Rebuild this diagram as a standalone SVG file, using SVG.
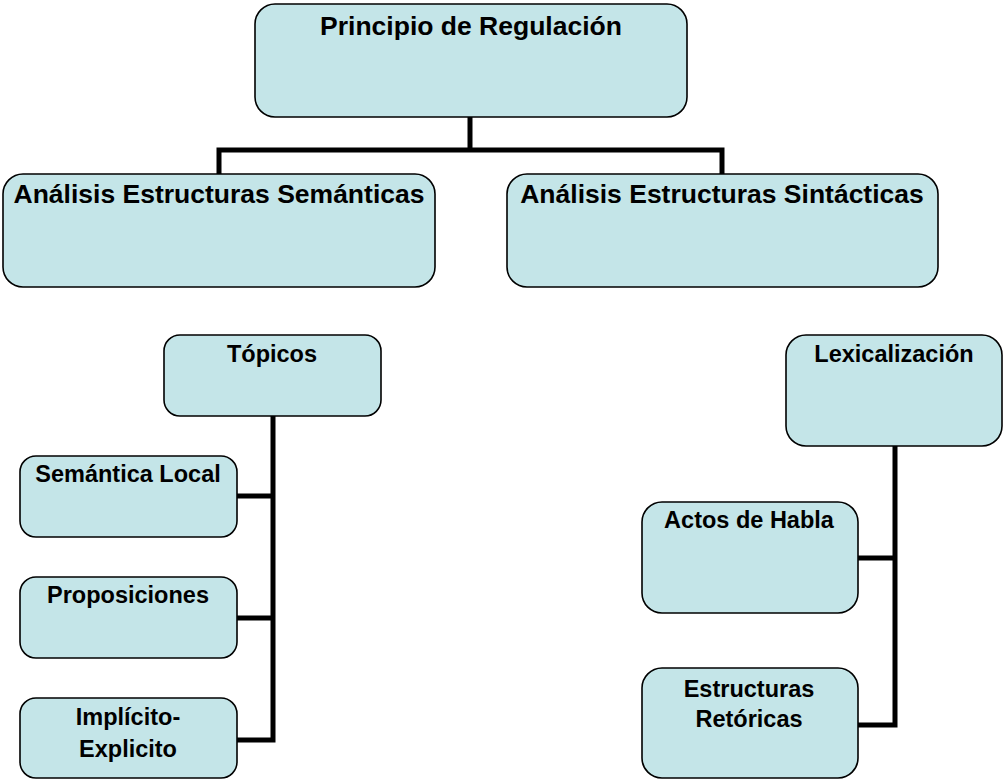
<svg xmlns="http://www.w3.org/2000/svg" width="1003" height="780" viewBox="0 0 1003 780">
<style>
.box{fill:#c4e5e8;stroke:#000;stroke-width:1.6}
.t{font-family:"Liberation Sans",Arial,sans-serif;font-weight:bold;fill:#000;text-anchor:middle}
.big{font-size:26.5px}
.sm{font-size:23.5px}
.c{fill:none;stroke:#000;stroke-width:5;stroke-linejoin:miter}
</style>
<rect width="1003" height="780" fill="#fff"/>
<g id="connectors">
<polyline class="c" points="470,117 470,150"/>
<polyline class="c" points="219,174 219,150 722,150 722,174"/>
<polyline class="c" points="237,496 273,496"/>
<polyline class="c" points="237,618 273,618"/>
<polyline class="c" points="273,416 273,740 237,740"/>
<polyline class="c" points="858,558 895,558"/>
<polyline class="c" points="895,446 895,725 858,725"/>
</g>
<g id="n-principio">
<rect class="box" x="255" y="4" width="432" height="113" rx="20"/>
<text class="t big" x="471" y="35">Principio de Regulación</text>
</g>
<g id="n-semanticas">
<rect class="box" x="3" y="174" width="432" height="113" rx="20"/>
<text class="t big" x="219" y="203">Análisis Estructuras Semánticas</text>
</g>
<g id="n-sintacticas">
<rect class="box" x="507" y="174" width="431" height="113" rx="20"/>
<text class="t big" x="722" y="203">Análisis Estructuras Sintácticas</text>
</g>
<g id="n-topicos">
<rect class="box" x="164" y="335" width="217" height="81" rx="16"/>
<text class="t sm" x="272" y="362">Tópicos</text>
</g>
<g id="n-semlocal">
<rect class="box" x="20" y="456" width="217" height="81" rx="16"/>
<text class="t sm" x="128" y="482">Semántica Local</text>
</g>
<g id="n-proposiciones">
<rect class="box" x="20" y="577" width="217" height="81" rx="16"/>
<text class="t sm" x="128" y="603">Proposiciones</text>
</g>
<g id="n-implicito">
<rect class="box" x="20" y="698" width="217" height="80" rx="16"/>
<text class="t sm" x="128" y="725">Implícito-</text>
<text class="t sm" x="128" y="757">Explicito</text>
</g>
<g id="n-lexicalizacion">
<rect class="box" x="786" y="335" width="216" height="111" rx="20"/>
<text class="t sm" x="894" y="362">Lexicalización</text>
</g>
<g id="n-actos">
<rect class="box" x="642" y="502" width="216" height="111" rx="20"/>
<text class="t sm" x="749" y="528">Actos de Habla</text>
</g>
<g id="n-retoricas">
<rect class="box" x="642" y="668" width="216" height="110" rx="20"/>
<text class="t sm" x="749" y="697">Estructuras</text>
<text class="t sm" x="749" y="727">Retóricas</text>
</g>
</svg>
